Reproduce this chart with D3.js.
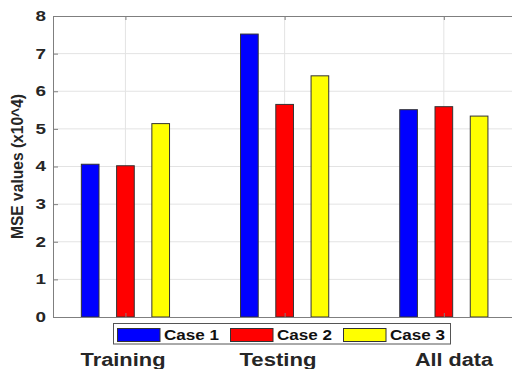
<!DOCTYPE html>
<html>
<head>
<meta charset="utf-8">
<script src="https://cdn.jsdelivr.net/npm/d3@7"></script>
<style>
  html, body { margin: 0; padding: 0; background: #fff; }
  svg { display: block; }
  text { font-family: "Liberation Sans", Arial, Helvetica, sans-serif; font-weight: bold; }
</style>
</head>
<body>
<svg id="chart" width="512" height="369"></svg>
<script>
// MSE per data split and case (x10^4)
const groups = ["Training", "Testing", "All data"];
const seriesNames = ["Case 1", "Case 2", "Case 3"];
const case1 = [4.06, 7.52, 5.51];
const case2 = [4.02, 5.65, 5.59];
const case3 = [5.14, 6.41, 5.34];
const yTicks = [0, 1, 2, 3, 4, 5, 6, 7, 8];
const colors = ["#0000ff", "#ff0000", "#ffff00"];
const series = [case1, case2, case3];

const svg = d3.select("#chart");
const plotLeft = 53, plotTop = 16, plotBottom = 317, plotRight = 530;

// groups sit at 1,2,3 on a linear axis, bars offset inside each group
const x = d3.scaleLinear().domain([0.545, 3.545]).range([plotLeft, plotLeft + 3 * 159.2]);
const y = d3.scaleLinear().domain([0, 8]).range([plotBottom, plotTop]);
const barOffset = 0.2215, barWidth = 0.111;

const axisColor = "#7f7f7f", gridColor = "#e3e3e3", textColor = "#262626";

// horizontal grid
svg.append("g")
  .selectAll("line").data(yTicks.slice(1, -1)).join("line")
  .attr("x1", plotLeft).attr("x2", plotRight)
  .attr("y1", d => y(d)).attr("y2", d => y(d))
  .attr("stroke", gridColor).attr("stroke-width", 1);

// vertical grid at group centres
svg.append("g")
  .selectAll("line").data(groups.map((g, i) => i + 1)).join("line")
  .attr("x1", d => x(d)).attr("x2", d => x(d))
  .attr("y1", plotTop).attr("y2", plotBottom)
  .attr("stroke", gridColor).attr("stroke-width", 1);

// bars
series.forEach((vals, s) => {
  svg.append("g")
    .selectAll("rect").data(vals).join("rect")
    .attr("x", (d, i) => x(i + 1 + (s - 1) * barOffset - barWidth / 2))
    .attr("width", x(1 + barWidth) - x(1))
    .attr("y", d => y(d))
    .attr("height", d => y(0) - y(d))
    .attr("fill", colors[s])
    .attr("stroke", "#333")
    .attr("stroke-width", 1);
});

// axes box
const yAxis = d3.axisLeft(y).tickValues(yTicks).tickSize(-5).tickPadding(7).tickFormat(d3.format("d"));
const gy = svg.append("g").attr("transform", `translate(${plotLeft},0)`).call(yAxis);
gy.select(".domain").attr("stroke", axisColor);
gy.selectAll(".tick line").attr("stroke", axisColor);
gy.selectAll(".tick text")
  .attr("fill", textColor).attr("font-size", 14)
  .attr("textLength", 10.5).attr("lengthAdjust", "spacingAndGlyphs");

const xBottom = d3.axisBottom(x).tickValues([1, 2, 3]).tickSize(-4).tickFormat("");
const gxb = svg.append("g").attr("transform", `translate(0,${plotBottom})`).call(xBottom);
gxb.select(".domain").remove();
gxb.selectAll(".tick line").attr("stroke", axisColor);

const xTop = d3.axisTop(x).tickValues([1, 2, 3]).tickSize(-4).tickFormat("");
const gxt = svg.append("g").attr("transform", `translate(0,${plotTop})`).call(xTop);
gxt.select(".domain").remove();
gxt.selectAll(".tick line").attr("stroke", axisColor);

svg.append("line").attr("x1", plotLeft).attr("x2", plotRight).attr("y1", plotTop + 0.5).attr("y2", plotTop + 0.5)
  .attr("stroke", axisColor);
svg.append("line").attr("x1", plotLeft).attr("x2", plotRight).attr("y1", plotBottom + 0.5).attr("y2", plotBottom + 0.5)
  .attr("stroke", axisColor);

// y-axis title
svg.append("text")
  .attr("transform", `translate(23,${(plotTop + plotBottom) / 2}) rotate(-90)`)
  .attr("x", -72.5)
  .attr("font-size", 16.5)
  .attr("fill", textColor)
  .attr("textLength", 145)
  .attr("lengthAdjust", "spacingAndGlyphs")
  .text("MSE values (x10^4)");

// group labels
const groupLabelX = [123, 278, 454];
const groupLabelW = [85, 77, 78];
svg.append("g")
  .selectAll("text").data(groups).join("text")
  .attr("x", (d, i) => groupLabelX[i] - groupLabelW[i] / 2)
  .attr("y", 366)
  .attr("font-size", 18)
  .attr("fill", textColor)
  .attr("textLength", (d, i) => groupLabelW[i])
  .attr("lengthAdjust", "spacingAndGlyphs")
  .text(d => d);

// legend
const legend = svg.append("g");
legend.append("rect")
  .attr("x", 113.5).attr("y", 323.5).attr("width", 337).attr("height", 20.5)
  .attr("fill", "#fff").attr("stroke", "#555").attr("stroke-width", 1);
const item = legend.selectAll("g.item").data(seriesNames).join("g")
  .attr("class", "item")
  .attr("transform", (d, i) => `translate(${117.5 + i * 113},0)`);
item.append("rect")
  .attr("x", 0).attr("y", 328.5).attr("width", 42.5).attr("height", 13)
  .attr("fill", (d, i) => colors[i]).attr("stroke", "#333").attr("stroke-width", 1);
item.append("text")
  .attr("x", 46.5).attr("y", 340)
  .attr("font-size", 14)
  .attr("fill", "#111")
  .attr("textLength", 55)
  .attr("lengthAdjust", "spacingAndGlyphs")
  .text(d => d);
</script>
</body>
</html>
